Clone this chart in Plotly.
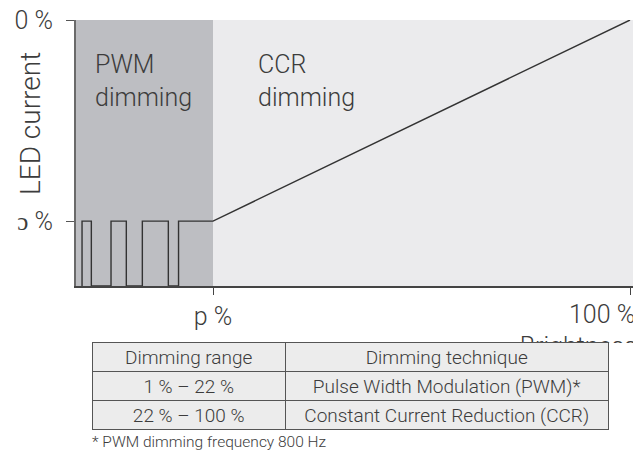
import plotly.graph_objects as go

# ---- data ----
boundary = 22.0              # PWM / CCR boundary (brightness %)
full = 100.0                 # full brightness / full current
pwm_level = 24.4             # LED current level during PWM (%)
pulse_rise = [-2.5, 2.92, 8.78, 15.55]
pulse_fall = [-0.76, 5.78, 13.64, 22.0]
x_tick_vals = [22, 100]
x_tick_text = ["p %", ""]
y_tick_vals = [24.4, 100]
y_tick_text = ["ɔ %", "0 %"]
region_labels = ["PWM<br>dimming", "CCR<br>dimming"]
table_header = ["Dimming range", "Dimming technique"]
table_ranges = ["1 % – 22 %", "22 % – 100 %"]
table_techniques = ["Pulse Width Modulation (PWM)*", "Constant Current Reduction (CCR)"]
footnote = "* PWM dimming frequency 800 Hz"
x_title = "Brightness"
y_title = "LED current"

W, H = 633, 457
XMIN, XMAX = -3.63, 100.56
FONT = "Roboto"
TXT = "#3c3c3c"


def px(x):
    return x / W


def py(y):
    return (H - y) / H


# waveform polyline
wx, wy = [], []
for r, f in zip(pulse_rise, pulse_fall):
    wx += [r, r, f]
    wy += [0, pwm_level, pwm_level]
    if f < boundary:
        wx.append(f); wy.append(0)
wx.append(full); wy.append(full)

fig = go.Figure()

# shaded regions (scatter fills)
fig.add_trace(go.Scatter(x=[XMIN, boundary, boundary, XMIN, XMIN], y=[0, 0, 100, 100, 0],
                         fill="toself", fillcolor="#bdbec2", line=dict(width=0),
                         mode="lines", hoverinfo="skip", showlegend=False))
fig.add_trace(go.Scatter(x=[boundary, XMAX, XMAX, boundary, boundary], y=[0, 0, 100, 100, 0],
                         fill="toself", fillcolor="#ebebed", line=dict(width=0),
                         mode="lines", hoverinfo="skip", showlegend=False))
# waveform + CCR line
fig.add_trace(go.Scatter(x=wx, y=wy, mode="lines", line=dict(color="#333333", width=1.4),
                         showlegend=False, cliponaxis=False, hoverinfo="skip"))

# clipped axis title "Brightness" (subplot 2 used as clip window)
fig.add_trace(go.Scatter(x=[0.26], y=[-0.38], mode="text", text=[x_title],
                         textposition="middle right", cliponaxis=True,
                         textfont=dict(family=FONT, size=25, color=TXT, weight=300),
                         xaxis="x2", yaxis="y2", showlegend=False, hoverinfo="skip"))

# table
fig.add_trace(go.Table(
    domain=dict(x=[px(92), px(608)], y=[py(431), py(342)]),
    columnwidth=[193, 322],
    header=dict(values=table_header, height=29, fill_color="#ececec",
                line=dict(color="#555555", width=1), align="center",
                font=dict(family=FONT, size=19, color=TXT, weight=300)),
    cells=dict(values=[table_ranges, table_techniques], height=29, fill_color="#ececec",
               line=dict(color="#555555", width=1), align="center",
               font=dict(family=FONT, size=19, color=TXT, weight=300)),
))

annotations = [
    dict(text=region_labels[0], x=XMIN, y=100, xref="x", yref="y", xanchor="left", yanchor="top",
         xshift=17, yshift=-28, showarrow=False, align="left",
         font=dict(family=FONT, size=25, color=TXT, weight=300)),
    dict(text=region_labels[1], x=boundary, y=100, xref="x", yref="y", xanchor="left", yanchor="top",
         xshift=43, yshift=-28, showarrow=False, align="left",
         font=dict(family=FONT, size=25, color=TXT, weight=300)),
    dict(text="100 %", x=full, y=0, xref="x", yref="y", xanchor="left", yanchor="top",
         xshift=-63, yshift=-12, showarrow=False,
         font=dict(family=FONT, size=25, color=TXT, weight=300)),
    dict(text=y_title, x=px(30), y=py(124), xref="paper", yref="paper", textangle=-90,
         xanchor="center", yanchor="middle",
         showarrow=False, font=dict(family=FONT, size=28, color=TXT, weight=300)),
    dict(text=footnote, x=px(90), y=py(442), xref="paper", yref="paper",
         xanchor="left", yanchor="middle", showarrow=False,
         font=dict(family=FONT, size=15.5, color=TXT, weight=300)),
]

fig.update_layout(
    width=W, height=H,
    margin=dict(l=0, r=0, t=0, b=0, autoexpand=False),
    paper_bgcolor="white", plot_bgcolor="rgba(0,0,0,0)",
    font=dict(family=FONT, size=25, color=TXT, weight=300),
    showlegend=False, hovermode=False,
    xaxis=dict(domain=[px(76), 1], range=[XMIN, XMAX], showgrid=False, zeroline=False, showline=True,
               linecolor="#444444", linewidth=1.5, ticks="outside", ticklen=7, tickcolor="#444444",
               tickwidth=1, tickvals=x_tick_vals, ticktext=x_tick_text, automargin=False,
               tickfont=dict(family=FONT, size=25, color=TXT, weight=300),
               fixedrange=True, layer="above traces", anchor="y"),
    yaxis=dict(domain=[py(286), py(20)], range=[0, 100], showgrid=False, zeroline=False, showline=True,
               linecolor="#6a6a6a", linewidth=2, ticks="outside", ticklen=8, tickcolor="#555555",
               tickwidth=1, tickvals=y_tick_vals, ticktext=y_tick_text, automargin=False,
               tickfont=dict(family=FONT, size=25, color=TXT, weight=300),
               ticklabelstandoff=8, fixedrange=True, layer="above traces", anchor="x"),
    xaxis2=dict(domain=[px(480), 1], range=[0, 1], visible=False, anchor="y2", fixedrange=True),
    yaxis2=dict(domain=[py(343), py(320)], range=[-0.1, 1], visible=False,
                anchor="x2", fixedrange=True),
    annotations=annotations,
)

fig.write_html("out.html", config={"displayModeBar": False, "staticPlot": True},
               post_script="document.body.style.margin='0';document.body.style.overflow='hidden';")
